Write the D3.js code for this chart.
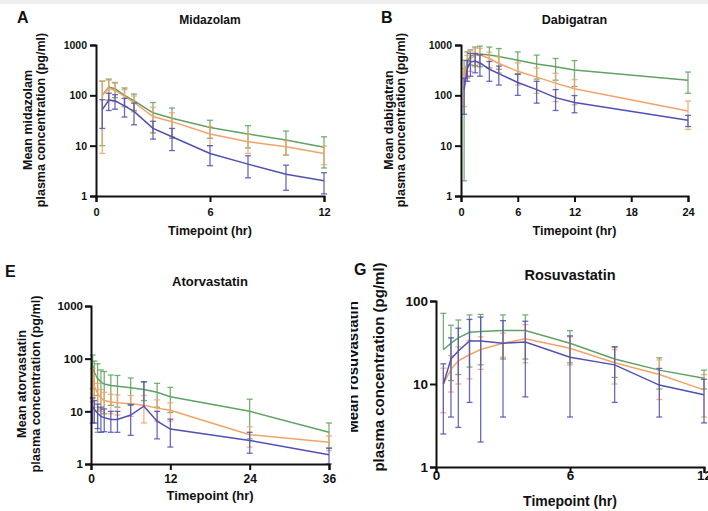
<!DOCTYPE html>
<html>
<head>
<meta charset="utf-8">
<script src="https://cdn.jsdelivr.net/npm/d3@7"></script>
<style>
  html, body { margin: 0; padding: 0; background: #fff; }
  svg { display: block; font-family: "Liberation Sans", Arial, sans-serif; font-weight: bold; }
</style>
</head>
<body>
<svg id="chart" width="708" height="511"></svg>
<script>
// ---------------- DATA ----------------
const seriesNames = ["green", "orange", "blue"];

// Panel A – Midazolam
const midazolamTime = [0.33, 0.67, 1, 1.5, 2, 3, 4, 6, 8, 10, 12];
const midazolamGreen = [100, 145, 135, 100, 78, 45, 35, 23, 17, 13, 9.3];
const midazolamGreenSd = [90, 65, 45, 40, 28, 27, 21, 9, 8, 6.5, 5.7];
const midazolamOrange = [100, 140, 125, 95, 72, 38, 30, 17, 12, 9.5, 7];
const midazolamOrangeSd = [93, 60, 50, 35, 25, 20, 15, 7, 5, 3, 2.8];
const midazolamBlue = [52, 80, 78, 62, 48, 22, 15, 7, 4.3, 2.7, 2];
const midazolamBlueSd = [30, 30, 25, 25, 22, 8.5, 7, 3, 2, 1.4, 0.9];
const midazolamXTicks = [0, 6, 12];

// Panel B – Dabigatran
const dabigatranTime = [0.33, 0.67, 1, 1.5, 2, 3, 4, 6, 8, 10, 12, 24];
const dabigatranGreen = [250, 480, 600, 650, 660, 630, 590, 500, 420, 370, 320, 200];
const dabigatranGreenSd = [248, 250, 200, 260, 290, 280, 260, 230, 210, 170, 170, 90];
const dabigatranOrange = [200, 420, 530, 620, 640, 540, 430, 300, 230, 175, 135, 49];
const dabigatranOrangeSd = [140, 200, 230, 250, 220, 180, 150, 140, 120, 100, 70, 28];
const dabigatranBlue = [130, 340, 460, 480, 440, 330, 270, 180, 130, 90, 72, 32];
const dabigatranBlueSd = [88, 150, 220, 200, 200, 140, 110, 80, 60, 40, 27, 8];
const dabigatranXTicks = [0, 6, 12, 18, 24];

// Panel E – Atorvastatin
const atorvastatinTime = [0.25, 0.5, 1, 1.5, 2, 3, 4, 6, 8, 10, 12, 24, 36];
const atorvastatinGreen = [72, 55, 42, 36, 33, 31, 30, 28, 26, 23, 19, 10, 4];
const atorvastatinGreenSd = [45, 35, 38, 25, 24, 18, 18, 15, 10, 11, 9.5, 7, 2];
const atorvastatinOrange = [40, 30, 22, 18, 16, 15, 14.5, 14, 13, 11.5, 10.5, 3.6, 2.6];
const atorvastatinOrangeSd = [25, 18, 12, 8, 7, 6, 6, 6, 7, 5, 4, 1.5, 0.8];
const atorvastatinBlue = [12, 11, 9.2, 8, 7.6, 7, 7, 8.5, 12.5, 6.5, 4.6, 2.8, 1.5];
const atorvastatinBlueSd = [6, 5, 4.5, 4, 3.5, 3, 3, 5, 24, 3.5, 2.5, 1.2, 0.5];
const atorvastatinXTicks = [0, 12, 24, 36];

// Panel G – Rosuvastatin
const rosuvastatinTime = [0.33, 0.67, 1, 1.5, 2, 3, 4, 6, 8, 10, 12];
const rosuvastatinGreen = [26, 31, 36, 42, 43, 44, 44, 31, 20, 14.7, 11.7];
const rosuvastatinGreenSd = [45, 20, 23, 26, 26, 24, 24, 13, 8, 6, 3];
const rosuvastatinOrange = [10, 15, 19, 22.5, 26, 31, 35, 27, 18, 13, 8.5];
const rosuvastatinOrangeSd = [5.5, 7, 9, 11, 11, 10, 17, 10, 8, 6.5, 4.5];
const rosuvastatinBlue = [10, 20, 25, 33, 33, 31, 32, 21, 17, 9.7, 7.4];
const rosuvastatinBlueSd = [7.5, 16, 22, 27, 31, 27, 25, 17, 11, 5.7, 4];
const rosuvastatinXTicks = [0, 6, 12];

const yTicks1000 = [1, 10, 100, 1000];
const yTicks100 = [1, 10, 100];

// ---------------- STYLE / LAYOUT ----------------
const colors = { green: "#5fa263", orange: "#f3a268", blue: "#5050b4" };

const panels = [
  { letter: "A", title: "Midazolam", yLine1: "Mean midazolam",
    time: midazolamTime,
    series: { green: [midazolamGreen, midazolamGreenSd], orange: [midazolamOrange, midazolamOrangeSd], blue: [midazolamBlue, midazolamBlueSd] },
    xTicks: midazolamXTicks, yTicks: yTicks1000,
    L: { x0: 96, x1: 324, yTop: 45, yBot: 196, letterX: 17, letterY: 23, letterSize: 16,
         titleY: 24, titleSize: 12, yt1: 32, yt2: 44.5, ytCenter: 120, ytSize: 12.5,
         xtY: 216, xtSize: 11, ytkSize: 10.5, ytkGap: 9, xTitleY: 234.5, xTitleSize: 12.5, clipY1: null } },
  { letter: "B", title: "Dabigatran", yLine1: "Mean dabigatran",
    time: dabigatranTime,
    series: { green: [dabigatranGreen, dabigatranGreenSd], orange: [dabigatranOrange, dabigatranOrangeSd], blue: [dabigatranBlue, dabigatranBlueSd] },
    xTicks: dabigatranXTicks, yTicks: yTicks1000,
    L: { x0: 461, x1: 688, yTop: 45, yBot: 196, letterX: 381, letterY: 23, letterSize: 16,
         titleY: 24, titleSize: 12.5, yt1: 393, yt2: 405, ytCenter: 120, ytSize: 12.5,
         xtY: 216, xtSize: 11, ytkSize: 10.5, ytkGap: 9, xTitleY: 234.5, xTitleSize: 12.5, clipY1: null } },
  { letter: "E", title: "Atorvastatin", yLine1: "Mean atorvastatin",
    time: atorvastatinTime,
    series: { green: [atorvastatinGreen, atorvastatinGreenSd], orange: [atorvastatinOrange, atorvastatinOrangeSd], blue: [atorvastatinBlue, atorvastatinBlueSd] },
    xTicks: atorvastatinXTicks, yTicks: yTicks1000,
    L: { x0: 91, x1: 329, yTop: 306, yBot: 464, letterX: 5, letterY: 277, letterSize: 16,
         titleY: 286, titleSize: 13, yt1: 26, yt2: 39.5, ytCenter: 384, ytSize: 12.7,
         xtY: 483, xtSize: 12, ytkSize: 11.5, ytkGap: 8, xTitleY: 500, xTitleSize: 13, clipY1: null } },
  { letter: "G", title: "Rosuvastatin", yLine1: "Mean rosuvastatin",
    time: rosuvastatinTime,
    series: { green: [rosuvastatinGreen, rosuvastatinGreenSd], orange: [rosuvastatinOrange, rosuvastatinOrangeSd], blue: [rosuvastatinBlue, rosuvastatinBlueSd] },
    xTicks: rosuvastatinXTicks, yTicks: yTicks100,
    L: { x0: 436, x1: 704, yTop: 301, yBot: 467, letterX: 354, letterY: 275, letterSize: 16,
         titleY: 280, titleSize: 14.5, yt1: 358, yt2: 384, ytCenter: 367, ytSize: 15,
         xtY: 480, xtSize: 13.5, ytkSize: 13.5, ytkGap: 8, xTitleY: 506, xTitleSize: 14, clipY1: 351 } }
];

// ---------------- DRAW ----------------
const svg = d3.select("#chart");
const defs = svg.append("defs");
svg.append("rect").attr("x", 0).attr("y", 0).attr("width", 708).attr("height", 511).attr("fill", "#ffffff");
svg.append("rect").attr("x", 0).attr("y", 0).attr("width", 708).attr("height", 4).attr("fill", "#eeeeee");

panels.forEach((p, pi) => {
  const L = p.L;
  const g = svg.append("g");
  const xMax = p.xTicks[p.xTicks.length - 1];
  const yMax = p.yTicks[p.yTicks.length - 1];
  const x = d3.scaleLinear().domain([0, xMax]).range([L.x0, L.x1]);
  const y = d3.scaleLog().domain([1, yMax]).range([L.yBot, L.yTop]);

  // series
  seriesNames.forEach(name => {
    const [mean, sd] = p.series[name];
    const col = colors[name];
    const pts = p.time.map((t, i) => ({ t, m: mean[i], s: sd[i] }));
    const eb = g.append("g").attr("stroke", col).attr("stroke-width", 1.3).attr("stroke-opacity", 0.85);
    pts.forEach(d => {
      const hi = d.m + d.s;
      const lo = d.m - d.s;
      const cx = x(d.t);
      const yHi = y(Math.min(hi, yMax));
      const yLo = lo > 0 ? y(Math.max(lo, 1)) : y(d.m);
      eb.append("line").attr("x1", cx).attr("x2", cx).attr("y1", yHi).attr("y2", yLo);
      eb.append("line").attr("x1", cx - 3).attr("x2", cx + 3).attr("y1", yHi).attr("y2", yHi);
      if (lo > 0) eb.append("line").attr("x1", cx - 3).attr("x2", cx + 3).attr("y1", yLo).attr("y2", yLo);
    });
    const line = d3.line().x(d => x(d.t)).y(d => y(d.m));
    g.append("path").datum(pts).attr("d", line).attr("fill", "none")
      .attr("stroke", col).attr("stroke-width", 1.5);
  });

  // axes
  const yAxis = d3.axisLeft(y).tickValues(p.yTicks).tickFormat(d3.format("d")).tickSizeOuter(0).tickSize(6).tickPadding(L.ytkGap - 6);
  const ya = g.append("g").attr("transform", `translate(${L.x0},0)`).call(yAxis);
  ya.select(".domain").attr("stroke", "#111").attr("stroke-width", 2);
  ya.selectAll(".tick line").attr("stroke", "#111").attr("stroke-width", 2);
  ya.selectAll("text").attr("font-size", L.ytkSize).attr("font-weight", "bold").attr("fill", "#111")
    .attr("font-family", "Liberation Sans, Arial, sans-serif");

  const xAxis = d3.axisBottom(x).tickValues(p.xTicks).tickFormat(d3.format("d")).tickSizeOuter(0).tickSize(6);
  const xa = g.append("g").attr("transform", `translate(0,${L.yBot})`).call(xAxis);
  xa.select(".domain").attr("stroke", "#111").attr("stroke-width", 2);
  xa.selectAll(".tick line").attr("stroke", "#111").attr("stroke-width", 2);
  xa.selectAll("text").attr("font-size", L.xtSize).attr("font-weight", "bold").attr("fill", "#111")
    .attr("font-family", "Liberation Sans, Arial, sans-serif")
    .attr("y", L.xtY - L.yBot).attr("dy", 0);

  // texts
  g.append("text").attr("x", L.letterX).attr("y", L.letterY).attr("font-size", L.letterSize)
    .attr("fill", "#111").text(p.letter);
  g.append("text").attr("x", (L.x0 + L.x1) / 2).attr("y", L.titleY).attr("text-anchor", "middle")
    .attr("font-size", L.titleSize).attr("fill", "#111").text(p.title);
  g.append("text").attr("x", (L.x0 + L.x1) / 2).attr("y", L.xTitleY).attr("text-anchor", "middle")
    .attr("font-size", L.xTitleSize).attr("fill", "#111").text("Timepoint (hr)");
  const t1 = g.append("text").attr("transform", `translate(${L.yt1},${L.ytCenter}) rotate(-90)`).attr("text-anchor", "middle")
    .attr("font-size", L.ytSize).attr("fill", "#111").text(p.yLine1);
  if (L.clipY1 !== null) {
    const id = "clipYt" + pi;
    defs.append("clipPath").attr("id", id).append("rect")
      .attr("x", L.clipY1).attr("y", 0).attr("width", 708).attr("height", 511);
    t1.remove();
    g.append("g").attr("clip-path", `url(#${id})`).append("text")
      .attr("transform", `translate(${L.yt1},${L.ytCenter}) rotate(-90)`).attr("text-anchor", "middle")
      .attr("font-size", L.ytSize).attr("fill", "#111").text(p.yLine1);
  }
  g.append("text").attr("transform", `translate(${L.yt2},${L.ytCenter}) rotate(-90)`).attr("text-anchor", "middle")
    .attr("font-size", L.ytSize).attr("fill", "#111").text("plasma concentration (pg/ml)");
});
</script>
</body>
</html>
